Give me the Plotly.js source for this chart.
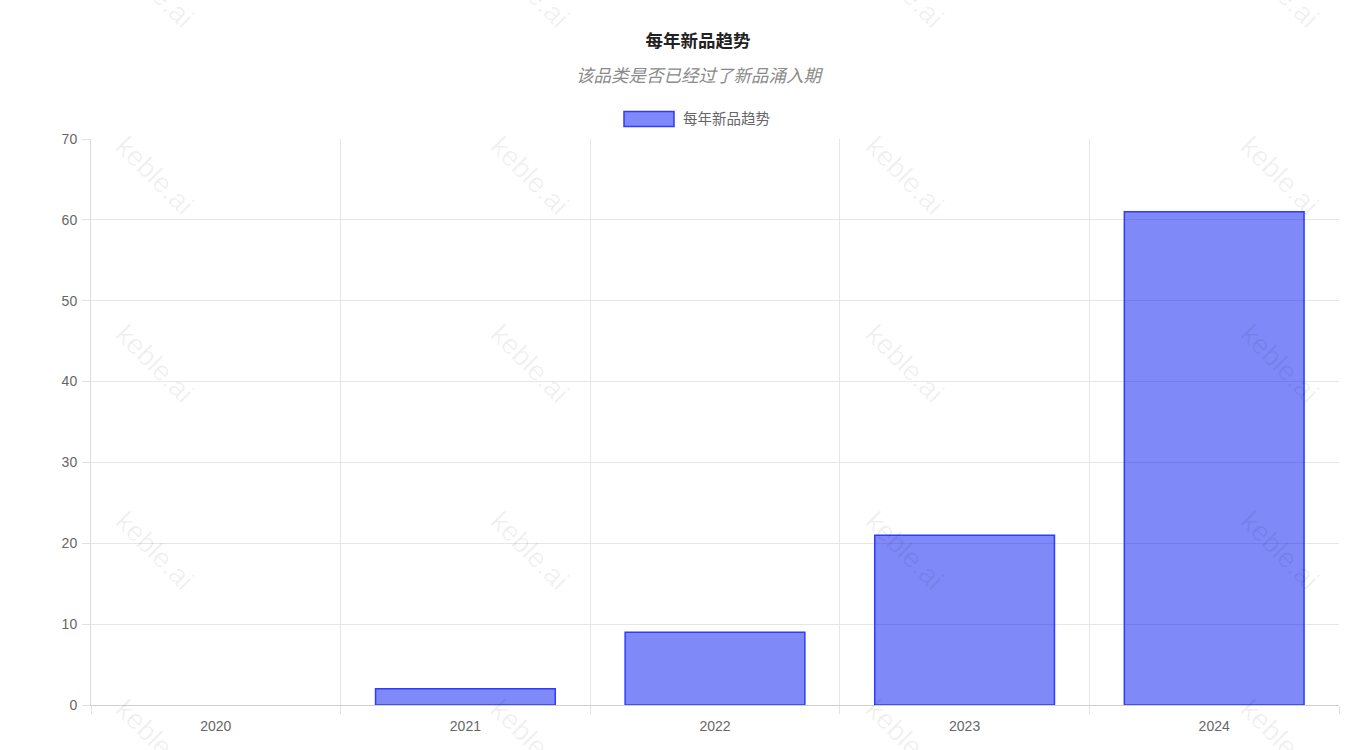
<!DOCTYPE html>
<html>
<head>
<meta charset="utf-8">
<script src="https://cdn.plot.ly/plotly-3.0.1.min.js"></script>
<style>
  html, body { margin: 0; padding: 0; background: #fff; }
  #plot { width: 1366px; height: 750px; }
</style>
</head>
<body>
<div id="plot"></div>
<script>
// data
var years = ["2020", "2021", "2022", "2023", "2024"];
var newItems = [0, 2, 9, 21, 61];
var seriesName = "每年新品趋势";
var chartTitle = "每年新品趋势";
var chartSubtitle = "该品类是否已经过了新品涌入期";

var FONT = "'Helvetica Neue', Arial, 'Liberation Sans', 'Noto Sans CJK SC', sans-serif";

// plot area in pixels
var L = 91, R = 27, T = 139, B = 45, W = 1366, H = 750;
var pw = W - L - R, ph = H - T - B;
function px(x) { return (x - L) / pw; }
function py(y) { return (H - B - y) / ph; }

var trace1 = {
  x: years,
  y: newItems,
  name: seriesName,
  type: "bar",
  width: 0.72,
  marker: {
    color: "rgba(0, 20, 242, 0.5)",
    // empty bars get no outline, like the original
    line: { color: "rgb(45, 60, 255)", width: newItems.map(v => v > 0 ? 1.5 : 0) }
  },
  hoverinfo: "x+y",
  showlegend: false
};

var annotations = [];

// subtitle
annotations.push({
  xref: "paper", yref: "paper", x: px(699), y: py(76),
  text: "<i>" + chartSubtitle + "</i>", showarrow: false,
  font: { family: FONT, size: 17.5, color: "#8a8a8a" },
  xanchor: "center", yanchor: "middle"
});

// legend label (hand-built so the swatch is wide like the original)
annotations.push({
  xref: "paper", yref: "paper", x: px(681), y: py(119),
  text: seriesName, showarrow: false,
  font: { family: FONT, size: 14.5, color: "#666" },
  xanchor: "left", yanchor: "middle"
});

// watermark
var wmX = [155, 530, 905, 1280];
var wmY = [-12, 175, 363, 550, 738];
wmX.forEach(function (x) {
  wmY.forEach(function (y) {
    annotations.push({
      xref: "paper", yref: "paper", x: px(x), y: py(y),
      text: "keble.ai", showarrow: false, textangle: 45,
      font: { family: FONT, size: 28, color: "rgba(0,0,0,0.06)" },
      xanchor: "center", yanchor: "middle"
    });
  });
});

var layout = {
  width: W, height: H,
  margin: { l: L, r: R, t: T, b: B, pad: 0 },
  paper_bgcolor: "#fff",
  plot_bgcolor: "#fff",
  font: { family: FONT, size: 14, color: "#666" },
  title: {
    text: "<b>" + chartTitle + "</b>",
    font: { family: FONT, size: 17.5, color: "#222" },
    x: 698 / W, xref: "container", xanchor: "center",
    y: 1 - 41 / H, yref: "container", yanchor: "middle"
  },
  xaxis: {
    type: "category",
    range: [-0.5, 4.5],
    tickson: "boundaries",
    ticks: "outside", ticklen: 8, tickcolor: "#e2e2e2", tickwidth: 1,
    ticklabelstandoff: 8,
    showgrid: true, gridcolor: "#e6e6e6", gridwidth: 1,
    showline: true, linecolor: "#cfcfcf", linewidth: 1,
    tickfont: { family: FONT, size: 14, color: "#666" },
    fixedrange: true
  },
  yaxis: {
    range: [0, 70],
    dtick: 10,
    ticks: "outside", ticklen: 8, tickcolor: "#e2e2e2", tickwidth: 1,
    ticklabelstandoff: 2,
    showgrid: true, gridcolor: "#e6e6e6", gridwidth: 1,
    zeroline: false,
    showline: true, linecolor: "#dcdcdc", linewidth: 1,
    tickfont: { family: FONT, size: 14, color: "#666" },
    fixedrange: true
  },
  shapes: [{
    type: "rect", xref: "paper", yref: "paper",
    x0: px(624), x1: px(674), y0: py(126.5), y1: py(111.5),
    fillcolor: "rgba(0, 20, 242, 0.5)",
    line: { color: "rgb(45, 60, 255)", width: 1.5 }
  }],
  annotations: annotations,
  showlegend: false
};

Plotly.newPlot("plot", [trace1], layout, { displayModeBar: false });
</script>
</body>
</html>
